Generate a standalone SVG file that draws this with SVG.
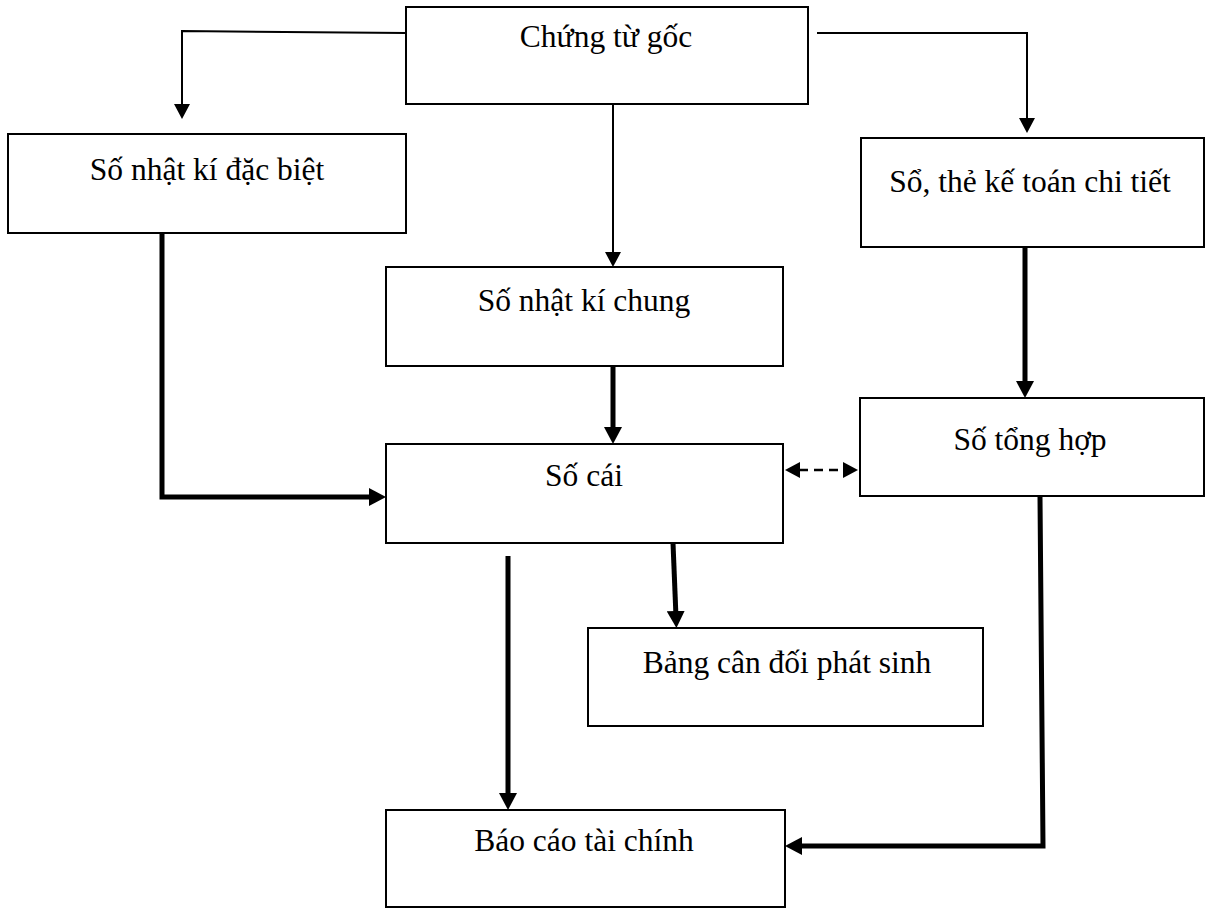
<svg xmlns="http://www.w3.org/2000/svg" width="1219" height="911" viewBox="0 0 1219 911">
  <style>
    .box { fill: #fff; stroke: #000; stroke-width: 2; }
    .lbl { font-family: "Liberation Serif", "Times New Roman", serif; font-size: 31.5px; fill: #000; text-anchor: middle; }
    .thin { fill: none; stroke: #000; stroke-width: 2; }
    .thick { fill: none; stroke: #000; stroke-width: 5; }
    .dash { fill: none; stroke: #000; stroke-width: 2.5; stroke-dasharray: 9 6; }
  </style>
  <defs>
    <marker id="headThin" markerUnits="userSpaceOnUse" markerWidth="16" markerHeight="16" refX="1" refY="8" orient="auto">
      <path d="M0,0 L15,8 L0,16 z" fill="#000"/>
    </marker>
    <marker id="headThick" markerUnits="userSpaceOnUse" markerWidth="18" markerHeight="18" refX="1" refY="9" orient="auto">
      <path d="M0,0 L17,9 L0,18 z" fill="#000"/>
    </marker>
    <marker id="headDash" markerUnits="userSpaceOnUse" markerWidth="16" markerHeight="16" refX="1" refY="8" orient="auto-start-reverse">
      <path d="M0,0 L15,8 L0,16 z" fill="#000"/>
    </marker>
  </defs>
  <rect width="1219" height="911" fill="#fff"/>

  <!-- connectors -->
  <g id="connectors">
    <path class="thin" d="M406,33 L182,31 L182,105" marker-end="url(#headThin)"/>
    <path class="thin" d="M817,33 L1027,33 L1027,119" marker-end="url(#headThin)"/>
    <path class="thin" d="M613,104 L613,253" marker-end="url(#headThin)"/>
    <path class="thick" d="M613,366 L613,428" marker-end="url(#headThick)"/>
    <path class="thick" d="M1025,247 L1025,382" marker-end="url(#headThick)"/>
    <path class="thick" d="M162,233 L162,497 L370,497" marker-end="url(#headThick)"/>
    <path class="dash" d="M799,470 L844,470" marker-start="url(#headDash)" marker-end="url(#headDash)"/>
    <path class="thick" d="M673,543 L675.8,612" marker-end="url(#headThick)"/>
    <path class="thick" d="M508,556 L508,794" marker-end="url(#headThick)"/>
    <path class="thick" d="M1040,497 L1043,846 L801,846" marker-end="url(#headThick)"/>
  </g>

  <g id="chung-tu-goc">
    <rect class="box" x="406" y="7" width="402" height="97"/>
    <text class="lbl" x="606" y="47">Chứng từ gốc</text>
  </g>
  <g id="so-nhat-ki-dac-biet">
    <rect class="box" x="8" y="134" width="398" height="99"/>
    <text class="lbl" x="207" y="180">Số nhật kí đặc biệt</text>
  </g>
  <g id="so-the-ke-toan-chi-tiet">
    <rect class="box" x="861" y="138" width="343" height="109"/>
    <text class="lbl" x="1030" y="192">Sổ, thẻ kế toán chi tiết</text>
  </g>
  <g id="so-nhat-ki-chung">
    <rect class="box" x="386" y="267" width="397" height="99"/>
    <text class="lbl" x="584" y="311">Số nhật kí chung</text>
  </g>
  <g id="so-cai">
    <rect class="box" x="386" y="444" width="397" height="99"/>
    <text class="lbl" x="584" y="486">Số cái</text>
  </g>
  <g id="so-tong-hop">
    <rect class="box" x="860" y="398" width="344" height="98"/>
    <text class="lbl" x="1030" y="450">Số tổng hợp</text>
  </g>
  <g id="bang-can-doi-phat-sinh">
    <rect class="box" x="588" y="628" width="395" height="98"/>
    <text class="lbl" x="787" y="673">Bảng cân đối phát sinh</text>
  </g>
  <g id="bao-cao-tai-chinh">
    <rect class="box" x="386" y="810" width="399" height="97"/>
    <text class="lbl" x="584" y="851">Báo cáo tài chính</text>
  </g>
</svg>
